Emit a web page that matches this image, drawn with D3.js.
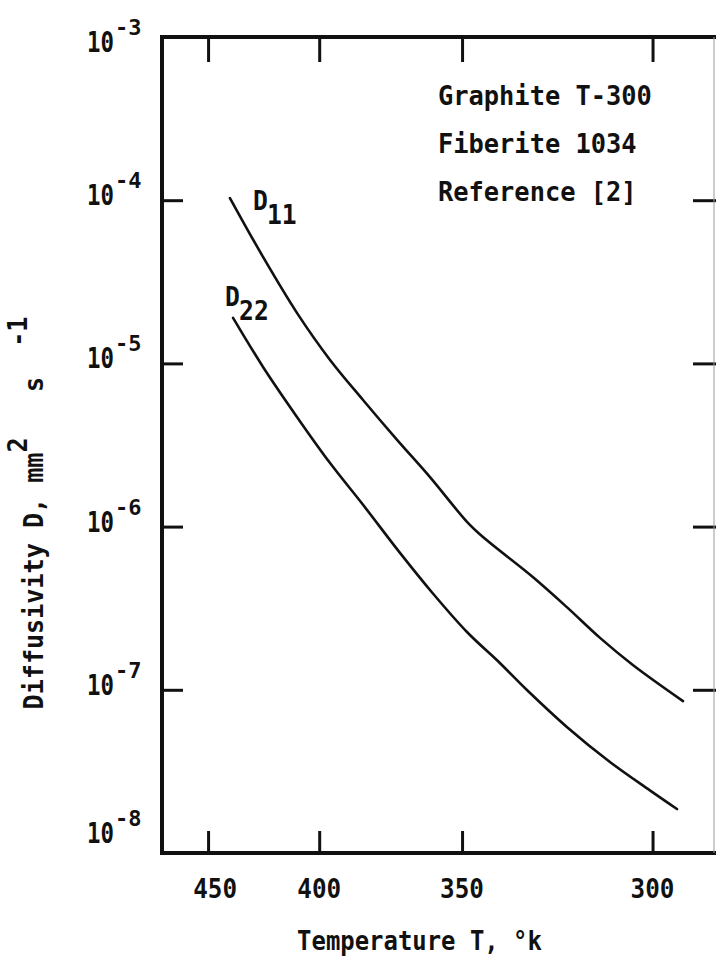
<!DOCTYPE html>
<html>
<head>
<meta charset="utf-8">
<script src="https://cdn.jsdelivr.net/npm/d3@7"></script>
<style>
  html, body { margin: 0; padding: 0; background: #fff; }
  svg { display: block; }
  text { font-family: "DejaVu Sans Mono", "Liberation Mono", monospace; font-weight: bold; fill: #111; }
</style>
</head>
<body>
<div id="chart"></div>
<script>
// ---- data ----
const TEMP_TICKS = [450, 400, 350, 300];          // degrees K (reciprocal axis)
const DECADES = [-3, -4, -5, -6, -7, -8];          // log10 of diffusivity
const D11_T = [439.2, 423.8, 409.1, 395.7, 383.2, 371.1, 360.1, 348.5, 343.7, 329.6, 320.6, 312.3, 304.5, 293.3];
const D11_V = [1.031e-4, 4.49e-5, 2.04e-5, 1.05e-5, 5.97e-6, 3.40e-6, 2.01e-6, 1.07e-6, 8.63e-7, 4.91e-7, 3.21e-7, 2.08e-7, 1.42e-7, 8.53e-8];
const D22_T = [437.7, 423.8, 409.1, 395.7, 383.2, 370.1, 359.3, 348.5, 338.8, 331.2, 320.6, 309.9, 300.6, 294.6];
const D22_V = [1.90e-5, 9.51e-6, 4.70e-6, 2.45e-6, 1.36e-6, 6.9e-7, 3.92e-7, 2.26e-7, 1.46e-7, 9.97e-8, 5.92e-8, 3.61e-8, 2.42e-8, 1.86e-8];
const NOTE_LINES = ["Graphite T-300", "Fiberite 1034", "Reference [2]"];
const X_TITLE = "Temperature T, °k";
const SERIES = [
  { name: "D", sub: "11", T: D11_T, V: D11_V },
  { name: "D", sub: "22", T: D22_T, V: D22_V }
];

// ---- layout ----
const W = 716, H = 969;
const L = 162, R = 711, TOP = 37, BOT = 853;
const FONT = 27;

const svg = d3.select("#chart").append("svg").attr("width", W).attr("height", H);
svg.append("rect").attr("width", W).attr("height", H).attr("fill", "#fff");

// reciprocal-temperature x scale, log y scale
const x = d3.scaleLinear().domain([1 / 474.6, 1 / 287.4]).range([L, R]);
const y = d3.scaleLog().domain([1e-8, 1e-3]).range([BOT, TOP]);
const xT = T => x(1 / T);

// helper: horizontally condensed text
function ctext(parent, px, py, str, size, sx, anchor) {
  const g = parent.append("g").attr("transform", `translate(${px},${py}) scale(${sx},1)`);
  return g.append("text").attr("font-size", size).attr("text-anchor", anchor || "start").text(str);
}

// ---- ticks via d3 axes ----
const inner = DECADES.slice(1, -1).map(e => Math.pow(10, e));
function styleAxis(g) {
  g.select(".domain").remove();
  g.selectAll(".tick line").attr("stroke", "#111").attr("stroke-width", 3);
  g.selectAll(".tick text").remove();
}
svg.append("g").attr("transform", `translate(0,${BOT})`)
  .call(d3.axisBottom(x).tickValues(TEMP_TICKS.map(t => 1 / t)).tickSize(-22).tickFormat(""))
  .call(styleAxis);
svg.append("g").attr("transform", `translate(0,${TOP})`)
  .call(d3.axisTop(x).tickValues(TEMP_TICKS.map(t => 1 / t)).tickSize(-25).tickFormat(""))
  .call(styleAxis);
svg.append("g").attr("transform", `translate(${L},0)`)
  .call(d3.axisLeft(y).tickValues(inner).tickSize(-21).tickFormat(""))
  .call(styleAxis);
svg.append("g").attr("transform", `translate(${R + 5},0)`)
  .call(d3.axisRight(y).tickValues(inner).tickSize(-23).tickFormat(""))
  .call(styleAxis);

// ---- frame ----
svg.append("path")
  .attr("d", `M${R + 5},${TOP} L${L},${TOP} L${L},${BOT} L${R + 5},${BOT}`)
  .attr("fill", "none").attr("stroke", "#111").attr("stroke-width", 4)
  .attr("stroke-linejoin", "miter");
svg.append("line").attr("x1", R + 3).attr("x2", R + 3).attr("y1", TOP).attr("y2", BOT)
  .attr("stroke", "#999").attr("stroke-width", 1);

// ---- x tick labels ----
TEMP_TICKS.forEach((t, i) => {
  ctext(svg, xT(t) + (i === 0 ? 7 : 0), BOT + 45, String(t), FONT, 0.9, "middle");
});

// ---- y tick labels 10^e ----
DECADES.forEach(e => {
  const yb = Math.min(Math.max(y(Math.pow(10, e)) + 5, TOP + 15), BOT - 10);
  ctext(svg, 87, yb, "10", 28, 0.8, "start");
  ctext(svg, 115, yb - 17, String(e), 22, 1.0, "start");
});

// ---- axis titles ----
ctext(svg, (L + R) / 2 - 17, 950, X_TITLE, FONT, 0.886, "middle");

const yl = svg.append("g").attr("transform", `translate(43,513) rotate(-90) scale(0.93,1)`)
  .append("text").attr("font-size", FONT).attr("text-anchor", "middle")
  .attr("xml:space", "preserve").style("white-space", "pre");
yl.append("tspan").text("Diffusivity D, mm");
yl.append("tspan").attr("dy", -16).text("2");
yl.append("tspan").attr("dy", 16).text("   s");
yl.append("tspan").attr("dy", -16).text("  -1");

// ---- curves ----
const line = d3.line()
  .x(d => xT(d.T)).y(d => y(d.v))
  .curve(d3.curveCatmullRom.alpha(0.5));
SERIES.forEach(s => {
  const pts = s.T.map((T, i) => ({ T, v: s.V[i] }));
  svg.append("path").datum(pts).attr("d", line)
    .attr("fill", "none").attr("stroke", "#111").attr("stroke-width", 2.6)
    .attr("stroke-linecap", "round");
});

// ---- curve labels ----
const offs = [[23, 12], [-8, -12]];
SERIES.forEach((s, i) => {
  const px = xT(s.T[0]) + offs[i][0], py = y(s.V[0]) + offs[i][1];
  ctext(svg, px, py, s.name, 26, 0.95, "start");
  ctext(svg, px + 14, py + 14, s.sub, 26, 0.95, "start");
});

// ---- note block ----
NOTE_LINES.forEach((t, i) => {
  ctext(svg, 438, 105 + i * 48, t, FONT, 0.94, "start");
});
</script>
</body>
</html>
